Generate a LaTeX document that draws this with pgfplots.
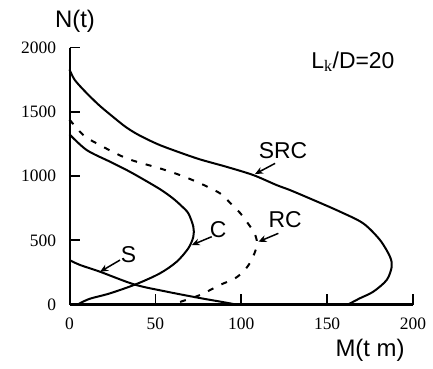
\documentclass[border=0pt]{standalone}
\usepackage{fontspec}
\setmainfont{Liberation Serif}
\newfontfamily\arial{Liberation Sans}
\usepackage{pgfplots}
\pgfplotsset{compat=1.18}
\usetikzlibrary{arrows.meta}
\begin{document}
\begin{tikzpicture}
\useasboundingbox (0,0) rectangle (433bp,369bp);
\begin{axis}[
  at={(69.5bp,64.5bp)}, anchor=south west,
  scale only axis, width=343.5bp, height=256.8bp,
  xmin=0, xmax=200, ymin=0, ymax=2000,
  axis lines=left, axis line style={-, line width=2bp},
  xtick={0,50,100,150,200}, ytick={0,500,1000,1500,2000},
  tick align=inside, major tick length=10bp,
  tick style={line width=1.6bp, black},
  /pgf/number format/1000 sep={},
  /pgf/number format/assume math mode=true,
  tick label style={font=\fontsize{17.5}{20}\selectfont},
  xticklabel style={yshift=-10bp},
  yticklabel style={xshift=-10bp},
  clip=false,
]
% SRC
\addplot[black, line width=2bp, smooth, tension=0.5] coordinates {
(0,1830) (3,1750) (9,1660) (17,1555) (25,1465) (33,1380) (41,1315) (52,1245)
(64,1185) (76,1130) (91.5,1072) (107,1008) (120.6,930) (128.4,891) (142,814)
(157.5,723) (171,632) (180.8,502) (186.6,372) (187.6,294) (184.7,191)
(176.9,100) (169,48) (163.3,8) (162,0)};
% RC
\addplot[black, line width=2bp, smooth, tension=0.5, dash pattern=on 6bp off 9bp] coordinates {
(0,1440) (8,1320) (15.8,1255) (33.3,1138) (52.7,1060) (64.3,1008) (76,944)
(87.6,866) (94,785) (99.5,710) (104,630) (107.5,560) (109,502) (109,450) (106,346)
(102,268) (96.4,204) (87.6,152) (76,74) (64,18) (61,0)};
% C
\addplot[black, line width=2bp, smooth, tension=0.5] coordinates {
(0,1325) (10,1203) (23.6,1112) (33.3,1047) (41,990) (52.7,898) (60,829) (65,770)
(69.2,710) (72.1,606) (72.1,528) (69.2,438) (62.4,333) (52.7,243) (39.1,160)
(23.6,87) (11.9,45) (6,9) (5,0)};
% S
\addplot[black, line width=2bp, smooth, tension=0.5] coordinates {
(0,346) (6.1,308) (17.8,255) (38,155) (56.6,100) (76,50) (88,22) (97,0)};

\node[font=\arial\fontsize{23}{26}\selectfont] at (axis cs:124.3,1197) {SRC};
\draw[-{Stealth[length=8bp,width=7bp]}, line width=1.5bp] (axis cs:119.7,1099) -- (axis cs:108,1016);
\node[font=\arial\fontsize{23}{26}\selectfont] at (axis cs:125.5,658) {RC};
\draw[-{Stealth[length=8bp,width=7bp]}, line width=1.5bp] (axis cs:121.6,554) -- (axis cs:110,489);
\node[font=\arial\fontsize{23}{26}\selectfont] at (axis cs:86.6,580) {C};
\draw[-{Stealth[length=8bp,width=7bp]}, line width=1.5bp] (axis cs:82.8,528) -- (axis cs:71.2,463);
\node[font=\arial\fontsize{23}{26}\selectfont] at (axis cs:34.3,385) {S};
\draw[-{Stealth[length=8bp,width=7bp]}, line width=1.5bp] (axis cs:29.4,346) -- (axis cs:17.8,255);

\node[font=\arial\fontsize{23}{26}\selectfont] at (axis cs:165,1890) {L$_{\mathrm{k}}$/D=20};
\node[font=\arial\fontsize{24}{27}\selectfont] at (axis cs:3.2,2208) {N(t)};
\node[font=\arial\fontsize{24}{27}\selectfont] at (axis cs:175,-354) {M(t m)};
\end{axis}
\end{tikzpicture}
\end{document}
